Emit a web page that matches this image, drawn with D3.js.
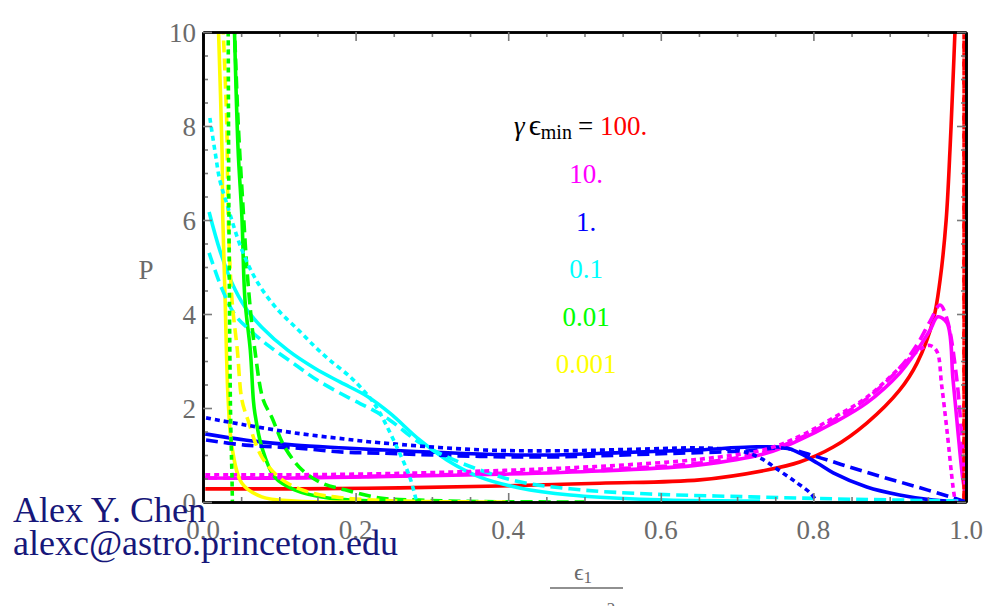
<!DOCTYPE html>
<html><head><meta charset="utf-8">
<script src="https://cdn.jsdelivr.net/npm/d3@7/dist/d3.min.js"></script>
<style>body{margin:0;background:#fff}svg{display:block}</style>
</head><body>
<svg id="chart" width="986" height="606"></svg>
<script>
// ---------- data ----------
const legendValues = ["100.", "10.", "1.", "0.1", "0.01", "0.001"];
const xTickValues = [0, 0.2, 0.4, 0.6, 0.8, 1.0];
const yTickValues = [0, 2, 4, 6, 8, 10];
const xMinorTicks = d3.range(0, 1.0001, 0.05);
const yMinorTicks = d3.range(0, 10.0001, 0.5);

const redSolid = [[0.003,0.28],[0.127,0.28],[0.258,0.30],[0.389,0.34],[0.520,0.40],[0.651,0.47],[0.739,0.68],[0.782,0.85],[0.826,1.17],[0.870,1.68],[0.913,2.38],[0.936,2.96],[0.957,3.87],[0.966,4.72],[0.974,6.0],[0.979,7.49],[0.983,8.98],[0.986,10.2]];
const redDashed = [[0.9975,10.2],[0.9975,0]];
const redDotted = [[0.9975,10.2],[0.9975,0]];

const magentaSolid = [[0.003,0.51],[0.127,0.51],[0.258,0.55],[0.389,0.59],[0.520,0.66],[0.651,0.79],[0.739,1.04],[0.782,1.32],[0.826,1.68],[0.870,2.11],[0.913,2.74],[0.936,3.23],[0.953,3.66],[0.963,3.94],[0.975,3.81],[0.983,2.6],[0.990,1.4],[0.996,0.47],[1.0,0.1]];
const magentaDashed = [[0.003,0.51],[0.127,0.52],[0.258,0.56],[0.389,0.61],[0.520,0.69],[0.651,0.83],[0.739,1.08],[0.782,1.36],[0.826,1.74],[0.870,2.2],[0.913,2.85],[0.936,3.35],[0.953,3.85],[0.966,4.19],[0.975,3.9],[0.988,2.6],[0.996,1.0],[1.0,0.1]];
const magentaDotted = [[0.003,0.58],[0.127,0.58],[0.258,0.61],[0.389,0.67],[0.520,0.76],[0.651,0.91],[0.739,1.13],[0.782,1.40],[0.826,1.79],[0.870,2.23],[0.913,2.85],[0.940,3.25],[0.953,3.33],[0.962,3.2],[0.968,2.5],[0.975,1.53],[0.983,0.32],[0.986,0]];

const blueSolid = [[0.003,1.45],[0.055,1.32],[0.12,1.21],[0.186,1.15],[0.232,1.11],[0.363,1.02],[0.455,1.0],[0.547,1.05],[0.651,1.11],[0.717,1.17],[0.765,1.15],[0.782,1.04],[0.805,0.83],[0.826,0.62],[0.870,0.32],[0.913,0.15],[0.957,0.04],[1.0,0]];
const blueDashed = [[0.004,1.32],[0.055,1.21],[0.12,1.15],[0.186,1.06],[0.232,1.04],[0.363,0.97],[0.468,0.96],[0.586,1.02],[0.717,1.09],[0.760,1.15],[0.805,0.96],[0.848,0.74],[0.891,0.53],[0.936,0.32],[0.979,0.11],[1.0,0]];
const blueDotted = [[0.004,1.79],[0.055,1.64],[0.12,1.47],[0.186,1.34],[0.232,1.26],[0.363,1.11],[0.468,1.09],[0.586,1.13],[0.651,1.15],[0.704,1.09],[0.730,0.94],[0.756,0.66],[0.779,0.40],[0.796,0.19],[0.805,0]];

const cyanSolid = [[0.008,6.17],[0.022,5.36],[0.038,4.66],[0.055,4.15],[0.077,3.72],[0.111,3.23],[0.147,2.84],[0.180,2.55],[0.215,2.25],[0.245,1.89],[0.284,1.32],[0.320,0.89],[0.363,0.53],[0.415,0.30],[0.481,0.15],[0.573,0.06],[0.73,0.02]];
const cyanDashed = [[0.008,5.30],[0.025,4.53],[0.042,3.98],[0.064,3.62],[0.088,3.30],[0.121,2.92],[0.149,2.60],[0.193,2.20],[0.22,1.98],[0.245,1.74],[0.284,1.26],[0.320,0.96],[0.363,0.68],[0.415,0.43],[0.494,0.26],[0.586,0.17],[0.717,0.11],[0.848,0.06],[0.99,0.02]];
const cyanDotted = [[0.009,8.17],[0.016,7.43],[0.022,6.85],[0.031,6.36],[0.051,5.36],[0.072,4.66],[0.098,4.09],[0.125,3.66],[0.147,3.30],[0.166,3.02],[0.193,2.66],[0.21,2.38],[0.221,2.17],[0.232,1.89],[0.254,1.17],[0.271,0.53],[0.28,0]];

const greenSolid = [[0.041,10.2],[0.046,7.5],[0.051,6.06],[0.055,4.3],[0.062,3.23],[0.066,2.17],[0.068,1.89],[0.077,1.17],[0.094,0.53],[0.12,0.26],[0.164,0.085],[0.232,0.02],[0.35,0]];
const greenDashed = [[0.041,10.2],[0.046,8.1],[0.052,6.4],[0.059,4.66],[0.068,3.23],[0.079,2.17],[0.090,1.81],[0.107,1.17],[0.130,0.68],[0.156,0.40],[0.186,0.26],[0.232,0.085],[0.284,0.04],[0.363,0.01],[0.5,0]];
const greenDotted = [[0.033,10.2],[0.034,6],[0.036,2],[0.038,0.5],[0.0385,0]];

const yellowSolid = [[0.020,10.2],[0.025,7.43],[0.026,6.0],[0.029,4.3],[0.033,2.17],[0.038,1.17],[0.051,0.40],[0.077,0.11],[0.12,0.02],[0.2,0]];
const yellowDashed = [[0.026,10.2],[0.031,8.13],[0.033,6.06],[0.038,4.30],[0.045,3.23],[0.051,2.17],[0.059,1.74],[0.077,0.96],[0.104,0.47],[0.143,0.19],[0.186,0.085],[0.258,0.02],[0.4,0]];

// ---------- styling ----------
const palette = ["#ff0000", "#ff00ff", "#0000ff", "#00ffff", "#00ff00", "#ffff00"];
const dashStyles = {solid: null, dashed: "12,6", dotted: "5,4"};

const series = [
  {data: redSolid, c: 0, s: "solid"}, {data: magentaSolid, c: 1, s: "solid"}, {data: blueSolid, c: 2, s: "solid"},
  {data: cyanSolid, c: 3, s: "solid"}, {data: greenSolid, c: 4, s: "solid"}, {data: yellowSolid, c: 5, s: "solid"},
  {data: redDashed, c: 0, s: "dashed"}, {data: magentaDashed, c: 1, s: "dashed"}, {data: blueDashed, c: 2, s: "dashed"},
  {data: cyanDashed, c: 3, s: "dashed"}, {data: greenDashed, c: 4, s: "dashed"}, {data: yellowDashed, c: 5, s: "dashed"},
  {data: redDotted, c: 0, s: "dotted", off: -12}, {data: magentaDotted, c: 1, s: "dotted"}, {data: blueDotted, c: 2, s: "dotted"},
  {data: cyanDotted, c: 3, s: "dotted"}, {data: greenDotted, c: 4, s: "dotted"}
];

const svg = d3.select("#chart");
const L = 203, R = 966, T = 32, B = 502;
const x = d3.scaleLinear().domain([0, 1]).range([L, R]);
const y = d3.scaleLinear().domain([0, 10]).range([B, T]);
const serif = "'Liberation Serif','Times New Roman',Times,serif";
const gray = "#6b6b6b";

svg.append("defs").append("clipPath").attr("id", "clip")
  .append("rect").attr("x", L).attr("y", T).attr("width", R - L).attr("height", B - T);

const line = d3.line().x(d => x(d[0])).y(d => y(d[1])).curve(d3.curveCatmullRom.alpha(0.5));
const g = svg.append("g").attr("clip-path", "url(#clip)");
series.forEach(sr => {
  g.append("path").attr("d", line(sr.data))
    .attr("fill", "none").attr("stroke", palette[sr.c])
    .attr("stroke-width", 3.6)
    .attr("stroke-dasharray", dashStyles[sr.s])
    .attr("stroke-dashoffset", sr.off || 0);
});

// ---------- axes (frame with inward ticks) ----------
function styleAxis(sel) {
  sel.select(".domain").attr("stroke", "#000").attr("stroke-width", 2.6);
  sel.selectAll(".tick line").attr("stroke", "#7a7a7a").attr("stroke-width", 1.6);
  sel.selectAll(".tick text").remove();
}
const minorX = xMinorTicks.filter(v => Math.abs(v * 5 - Math.round(v * 5)) > 1e-6);
const minorY = yMinorTicks.filter(v => Math.abs(v / 2 - Math.round(v / 2)) > 1e-6);

[[d3.axisBottom, B, x, xTickValues, minorX, "h"], [d3.axisTop, T, x, xTickValues, minorX, "h"],
 [d3.axisLeft, L, y, yTickValues, minorY, "v"], [d3.axisRight, R, y, yTickValues, minorY, "v"]]
.forEach(([fn, pos, sc, major, minor, o]) => {
  const tr = o === "h" ? `translate(0,${pos})` : `translate(${pos},0)`;
  svg.append("g").attr("transform", tr)
    .call(fn(sc).tickValues(minor).tickSize(-5).tickSizeOuter(0)).call(styleAxis);
  svg.append("g").attr("transform", tr)
    .call(fn(sc).tickValues(major).tickSize(-9).tickSizeOuter(0)).call(styleAxis);
});

// tick labels
svg.append("g").selectAll("text").data(xTickValues).join("text")
  .attr("x", d => x(d)).attr("y", 539).attr("text-anchor", "middle")
  .attr("font-family", serif).attr("font-size", 27).attr("fill", gray)
  .text(d => d3.format(".1f")(d));
svg.append("g").selectAll("text").data(yTickValues).join("text")
  .attr("x", 196).attr("y", d => y(d)).attr("dy", "0.36em").attr("text-anchor", "end")
  .attr("font-family", serif).attr("font-size", 27).attr("fill", gray)
  .text(d => d);

// axis labels
svg.append("text").attr("x", 146).attr("y", 279).attr("text-anchor", "middle")
  .attr("font-family", serif).attr("font-size", 27).attr("fill", gray).text("P");
const xl = svg.append("text").attr("x", 583).attr("y", 580).attr("text-anchor", "middle")
  .attr("font-family", serif).attr("font-size", 24).attr("fill", gray);
xl.append("tspan").text("\u03F5");
xl.append("tspan").attr("font-size", 17).attr("dy", 3).text("1");
svg.append("line").attr("x1", 550).attr("x2", 623).attr("y1", 588).attr("y2", 588)
  .attr("stroke", gray).attr("stroke-width", 1.6);
svg.append("text").attr("x", 611).attr("y", 614).attr("text-anchor", "middle")
  .attr("font-family", serif).attr("font-size", 17).attr("fill", gray).text("2");

// legend
const lg = svg.append("text").attr("x", 514).attr("y", 135)
  .attr("font-family", serif).attr("font-size", 27).attr("fill", "#000");
lg.append("tspan").attr("font-style", "italic").text("\u03B3");
lg.append("tspan").attr("dx", 4).attr("font-size", 30).text("\u03F5");
lg.append("tspan").attr("font-size", 20).attr("dy", 4).text("min");
lg.append("tspan").attr("dy", -4).attr("dx", 6).text("= ");
lg.append("tspan").attr("fill", palette[0]).text(legendValues[0]);
svg.append("g").selectAll("text").data(legendValues.slice(1)).join("text")
  .attr("x", 586).attr("y", (d, i) => 183 + i * 47.5).attr("text-anchor", "middle")
  .attr("font-family", serif).attr("font-size", 27)
  .attr("fill", (d, i) => palette[i + 1]).text(d => d);

// watermark
svg.append("text").attr("x", 13).attr("y", 522).attr("font-family", serif)
  .attr("font-size", 36).attr("fill", "#17177a").text("Alex Y. Chen");
svg.append("text").attr("x", 13).attr("y", 555).attr("font-family", serif)
  .attr("font-size", 36).attr("fill", "#17177a").text("alexc@astro.princeton.edu");
</script>
</body></html>
